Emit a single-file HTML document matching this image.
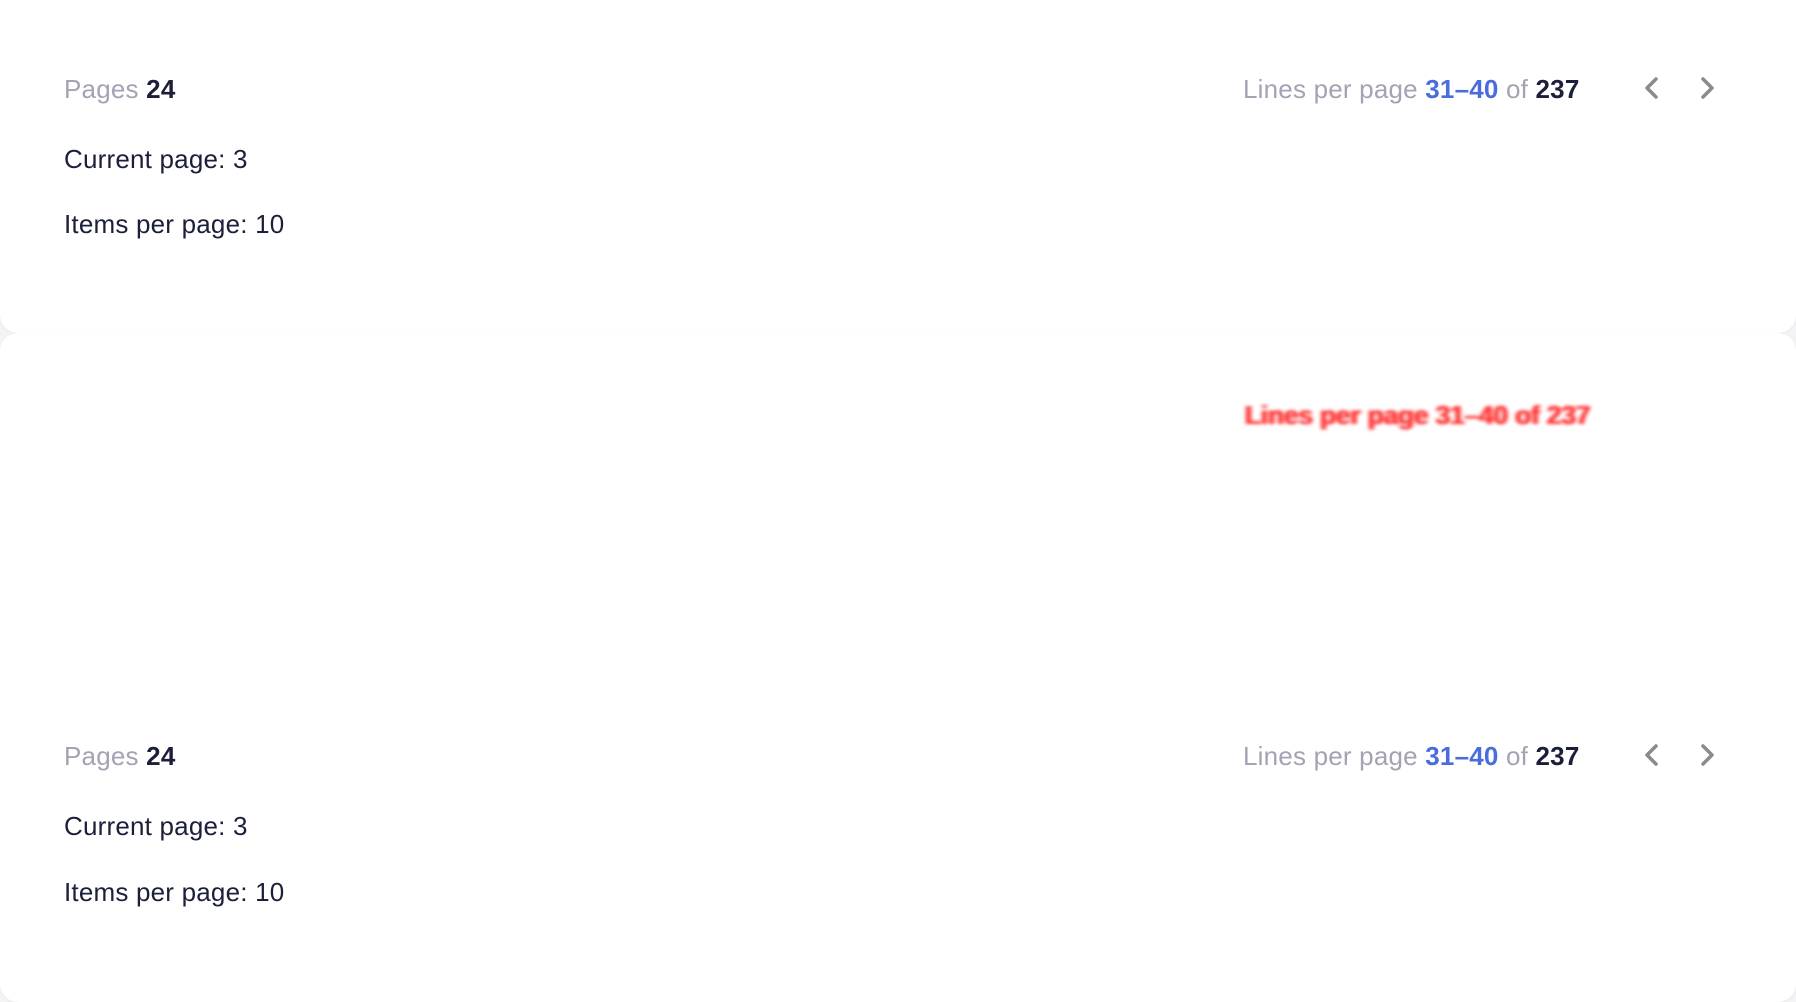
<!DOCTYPE html>
<html><head><meta charset="utf-8"><style>
html,body{margin:0;padding:0;width:1796px;height:1002px;overflow:hidden;background:#f4f4f6;font-family:"Liberation Sans",sans-serif}
.card{position:absolute;left:0;width:1796px;background:#fff;border-radius:0 0 18px 18px;box-shadow:0 1px 3px rgba(0,0,0,0.05)}
.t{position:absolute;white-space:nowrap;font-size:26px;line-height:1;letter-spacing:0.2px}
.g{color:#a3a3b4}.d{color:#1c1f3a;font-weight:bold}.b{color:#4a6cdc;font-weight:bold}
.n{color:#1c1f3a}
.chev{position:absolute;width:30px;height:30px}
.blur{position:absolute;white-space:nowrap;font-size:26px;font-weight:bold;color:rgba(255,40,40,0.75);filter:blur(1.5px);letter-spacing:0px;text-shadow:2px 0 rgba(255,0,0,0.4),-2px 0 rgba(255,0,0,0.4)}
</style></head><body>
<div class="card" style="top:0;height:333px">
  <div class="t g" style="left:64px;top:76px">Pages <span class="d">24</span></div>
  <div class="t n" style="left:64px;top:146px">Current page: 3</div>
  <div class="t n" style="left:64px;top:211px">Items per page: 10</div>
  <div class="t g" style="left:1243px;top:76px">Lines per page <span class="b">31–40</span> of <span class="d">237</span></div>
  <svg class="chev" style="left:1637px;top:73px" viewBox="0 0 30 30"><path d="M19 6 L10 15 L19 24" fill="none" stroke="#8a8a8f" stroke-width="3.5" stroke-linecap="round" stroke-linejoin="round"/></svg>
  <svg class="chev" style="left:1692px;top:73px" viewBox="0 0 30 30"><path d="M11 6 L20 15 L11 24" fill="none" stroke="#8a8a8f" stroke-width="3.5" stroke-linecap="round" stroke-linejoin="round"/></svg>
</div>
<div class="card" style="top:333px;height:669px;border-radius:18px 18px 18px 18px">
  <div class="blur" style="left:1245px;top:67px">Lines per page 31–40 of 237</div>
  <div class="t g" style="left:64px;top:410px">Pages <span class="d">24</span></div>
  <div class="t n" style="left:64px;top:480px">Current page: 3</div>
  <div class="t n" style="left:64px;top:546px">Items per page: 10</div>
  <div class="t g" style="left:1243px;top:410px">Lines per page <span class="b">31–40</span> of <span class="d">237</span></div>
  <svg class="chev" style="left:1637px;top:407px" viewBox="0 0 30 30"><path d="M19 6 L10 15 L19 24" fill="none" stroke="#8a8a8f" stroke-width="3.5" stroke-linecap="round" stroke-linejoin="round"/></svg>
  <svg class="chev" style="left:1692px;top:407px" viewBox="0 0 30 30"><path d="M11 6 L20 15 L11 24" fill="none" stroke="#8a8a8f" stroke-width="3.5" stroke-linecap="round" stroke-linejoin="round"/></svg>
</div>
</body></html>
